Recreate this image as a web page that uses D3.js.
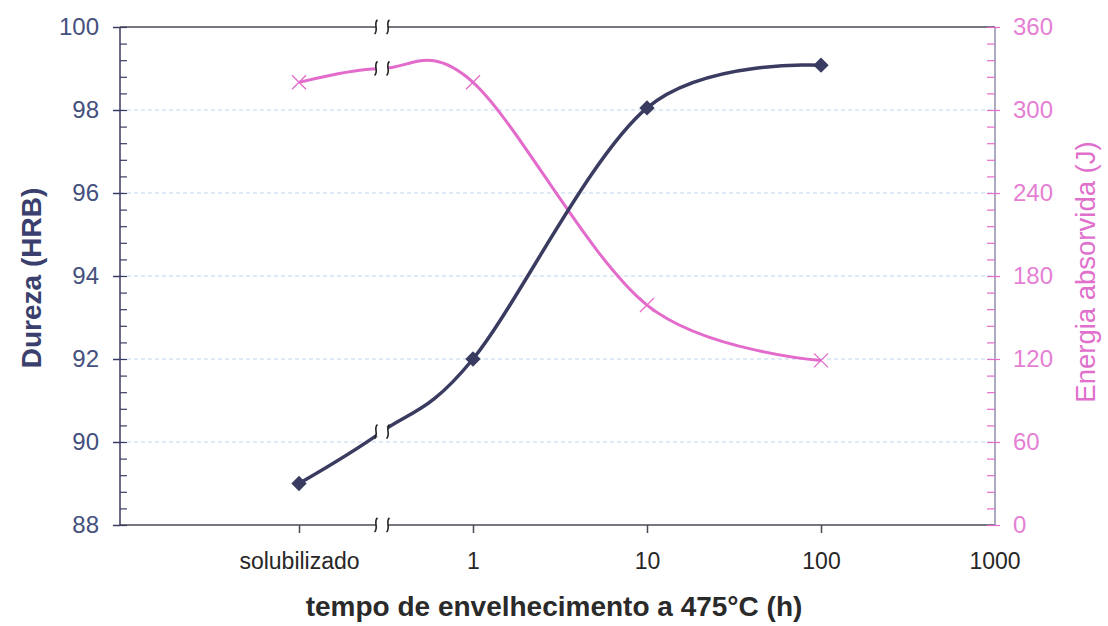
<!DOCTYPE html>
<html>
<head>
<meta charset="utf-8">
<script src="https://cdn.jsdelivr.net/npm/d3@7"></script>
<style>
  html, body { margin: 0; padding: 0; background: #fff; }
  svg { display: block; font-family: 'Liberation Sans', Arial, sans-serif; }
</style>
</head>
<body>
<svg id="chart" width="1108" height="626" viewBox="0 0 1108 626"></svg>
<script>
// x categories (log time axis, "solubilizado" sits one decade below 1 h)
var tickValues = [0.1, 1, 10, 100, 1000];
var tickLabels = ['solubilizado', '1', '10', '100', '1000'];

// series
var times = [0.1, 0.3, 1, 10, 100];
var dureza = [89.0, 90.25, 92.0, 98.05, 99.08];
var energia = [320, 330, 320, 159, 119];
var hasMarker = [true, false, true, true, true];
var breakTime = 0.3;

var durezaTicks = [88, 90, 92, 94, 96, 98, 100];
var energiaTicks = [0, 60, 120, 180, 240, 300, 360];

(function () {
  var svg = d3.select('#chart');
  var left = 120, right = 995, top = 27, bottom = 525;

  var x = d3.scaleLog().domain([0.1, 1000]).range([299, 995]);
  var yL = d3.scaleLinear().domain([88, 100]).range([bottom, top]);
  var yR = d3.scaleLinear().domain([0, 360]).range([bottom, top]);

  var dark = '#3a3b60';
  var pink = '#e36bcb';

  // dashed gridlines
  svg.append('g').selectAll('line').data(durezaTicks.slice(1, -1)).enter().append('line')
    .attr('x1', left).attr('x2', right)
    .attr('y1', function (d) { return yL(d); }).attr('y2', function (d) { return yL(d); })
    .attr('stroke', '#bcd6ee').attr('stroke-width', 1).attr('stroke-dasharray', '4,3');

  // frame top
  svg.append('line').attr('x1', left).attr('x2', right).attr('y1', top).attr('y2', top)
    .attr('stroke', '#4a4a55').attr('stroke-width', 1.5);

  // x axis
  var xAxis = svg.append('g').attr('transform', 'translate(0,' + bottom + ')')
    .call(d3.axisBottom(x).tickValues(tickValues.slice(0, -1)).tickSize(8).tickPadding(20)
      .tickFormat(function (d, i) { return tickLabels[i]; }));
  xAxis.select('.domain').attr('d', 'M' + left + ',0H' + right).attr('stroke', '#4a4a55').attr('stroke-width', 1.5);
  xAxis.selectAll('.tick line').attr('stroke', '#4a4a55').attr('stroke-width', 1.5);
  xAxis.selectAll('text').attr('font-size', 23).attr('fill', '#262626');
  svg.append('text').attr('x', x(1000)).attr('y', bottom + 8 + 20).attr('dy', '0.71em')
    .attr('text-anchor', 'middle').attr('font-size', 23).attr('fill', '#262626').text(tickLabels[4]);

  // left axis
  var yMinor = d3.range(88, 100.01, 0.4);
  var gl = svg.append('g').attr('transform', 'translate(' + left + ',0)');
  gl.call(d3.axisLeft(yL).tickValues(durezaTicks).tickSize(7).tickPadding(14).tickFormat(d3.format('d')));
  gl.select('.domain').attr('d', 'M0,' + top + 'V' + bottom).attr('stroke', dark).attr('stroke-width', 1.5);
  gl.selectAll('.tick line').attr('stroke', dark).attr('stroke-width', 1.5);
  gl.selectAll('text').attr('font-size', 24).attr('fill', '#44507e');
  svg.append('g').attr('transform', 'translate(' + left + ',0)')
    .call(d3.axisRight(yL).tickValues(yMinor).tickSize(7).tickFormat(''))
    .call(function (g) { g.select('.domain').remove(); })
    .selectAll('line').attr('stroke', dark).attr('stroke-width', 1.2);

  // right axis
  var rMinor = d3.range(0, 360.01, 12);
  var gr = svg.append('g').attr('transform', 'translate(' + right + ',0)');
  gr.call(d3.axisRight(yR).tickValues(energiaTicks).tickSize(5).tickPadding(13).tickFormat(d3.format('d')));
  gr.select('.domain').attr('d', 'M0,' + top + 'V' + bottom).attr('stroke', '#8f8fb0').attr('stroke-width', 1.5);
  gr.selectAll('.tick line').attr('stroke', pink).attr('stroke-width', 1.2);
  gr.selectAll('text').attr('font-size', 24).attr('fill', '#e57fd4');
  svg.append('g').attr('transform', 'translate(' + right + ',0)')
    .call(d3.axisLeft(yR).tickValues(rMinor).tickSize(8).tickFormat(''))
    .call(function (g) { g.select('.domain').remove(); })
    .selectAll('line').attr('stroke', pink).attr('stroke-width', 1.2);

  // smoothed lines
  var curve = d3.curveCardinal.tension(0);
  var lineL = d3.line().curve(curve)
    .x(function (d, i) { return x(times[i]); }).y(function (d) { return yL(d); });
  var lineR = d3.line().curve(curve)
    .x(function (d, i) { return x(times[i]); }).y(function (d) { return yR(d); });

  svg.append('path').attr('d', lineR(energia)).attr('fill', 'none')
    .attr('stroke', pink).attr('stroke-width', 3);
  svg.append('path').attr('d', lineL(dureza)).attr('fill', 'none')
    .attr('stroke', dark).attr('stroke-width', 3.5);

  // markers
  var pts = times.map(function (t, i) { return { t: t, l: dureza[i], r: energia[i], m: hasMarker[i] }; })
    .filter(function (d) { return d.m; });
  svg.append('g').selectAll('path').data(pts).enter().append('path')
    .attr('transform', function (d) { return 'translate(' + x(d.t) + ',' + yR(d.r) + ')'; })
    .attr('d', 'M-7,-7L7,7M-7,7L7,-7').attr('stroke', pink).attr('stroke-width', 1.3);
  svg.append('g').selectAll('path').data(pts).enter().append('path')
    .attr('transform', function (d) { return 'translate(' + x(d.t) + ',' + yL(d.l) + ')'; })
    .attr('d', d3.symbol(d3.symbolDiamond2, 150)).attr('fill', dark);

  // break marks
  var bx = x(breakTime);
  var bi = times.indexOf(breakTime);
  var breaks = [top, bottom, yL(dureza[bi]), yR(energia[bi])];
  var bg = svg.append('g').selectAll('g').data(breaks).enter().append('g')
    .attr('transform', function (d) { return 'translate(' + bx + ',' + d + ')'; });
  bg.append('rect').attr('x', -6).attr('y', -5).attr('width', 12).attr('height', 10).attr('fill', '#fff');
  [-6, 6].forEach(function (dx) {
    bg.append('path')
      .attr('d', 'M' + (dx + 1.5) + ',-7C' + (dx - 3) + ',-4 ' + (dx + 3) + ',3 ' + (dx - 1.5) + ',7')
      .attr('fill', 'none').attr('stroke', '#222').attr('stroke-width', 1.6);
  });

  // axis titles
  svg.append('text').attr('transform', 'translate(41,278) rotate(-90)')
    .attr('text-anchor', 'middle').attr('font-size', 28).attr('font-weight', 'bold')
    .attr('fill', '#3a3f6e').text('Dureza (HRB)');
  svg.append('text').attr('transform', 'translate(1095,272) rotate(-90)')
    .attr('text-anchor', 'middle').attr('font-size', 27.5)
    .attr('fill', '#e070cc').text('Energia absorvida (J)');
  svg.append('text').attr('x', 554).attr('y', 616)
    .attr('text-anchor', 'middle').attr('font-size', 28).attr('font-weight', 'bold')
    .attr('fill', '#2a2a2a').text('tempo de envelhecimento a 475°C (h)');
})();
</script>
</body>
</html>
